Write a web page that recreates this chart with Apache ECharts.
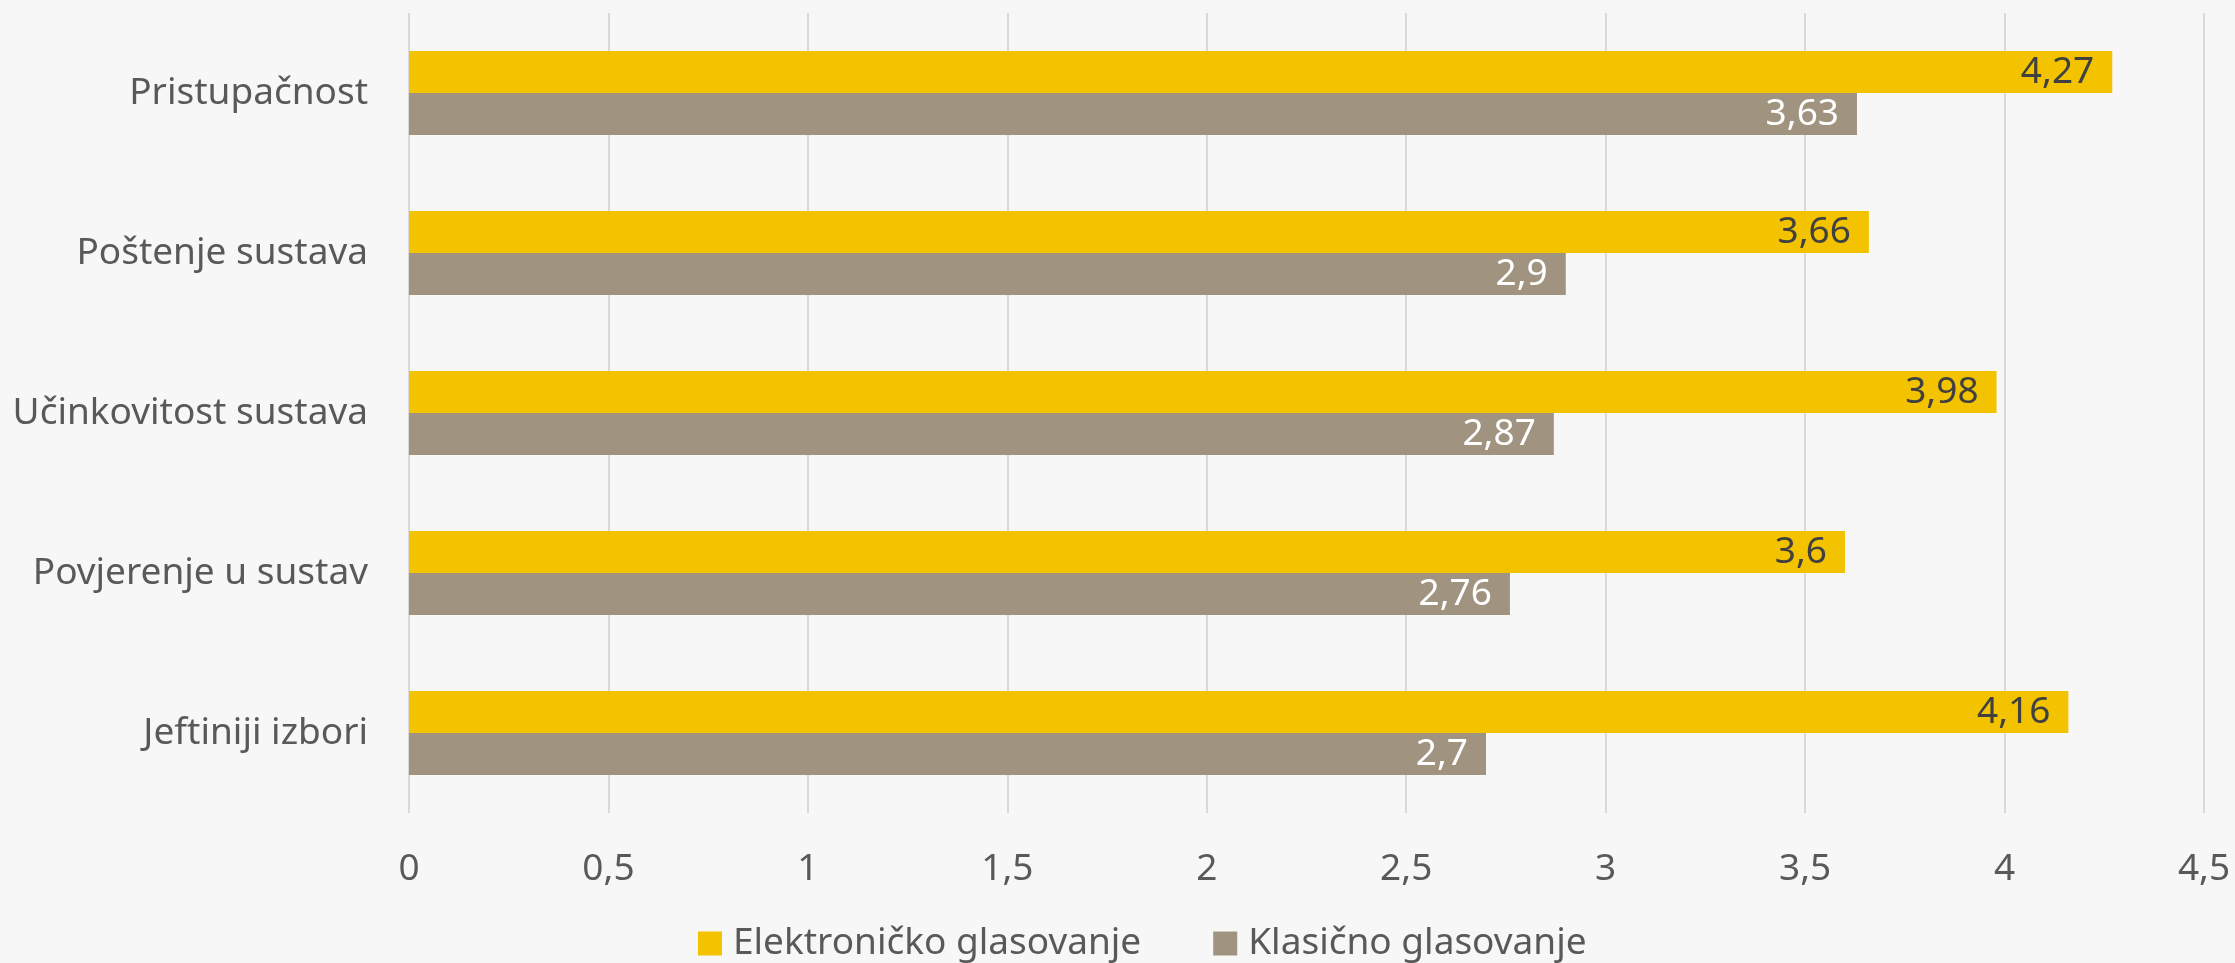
<!DOCTYPE html>
<html lang="hr">
  <head>
    <meta charset="utf-8">
    <title>Glasovanje</title>
    <script src="https://cdn.jsdelivr.net/npm/echarts@6/dist/echarts.min.js"></script>
    <style>
      html, body { margin: 0; padding: 0; background: #f7f7f7; }
      #chart { width: 2235px; height: 963px; }
    </style>
  </head>
  <body>
    <div id="chart"></div>
    <script type="text/javascript">
        // podaci
        var categories = ['Pristupačnost', 'Poštenje sustava', 'Učinkovitost sustava', 'Povjerenje u sustav', 'Jeftiniji izbori'];
        var elektronicko = [4.27, 3.66, 3.98, 3.6, 4.16];
        var klasicno = [3.63, 2.9, 2.87, 2.76, 2.7];
        var seriesNames = ['Elektroničko glasovanje', 'Klasično glasovanje'];

        var fontName = 'Noto Sans';
        var fmt = function (v) { return String(v).replace('.', ','); };

        var myChart = echarts.init(document.getElementById('chart'));
        myChart.setOption({
            backgroundColor: '#f7f7f7',
            animation: false,
            textStyle: { fontFamily: fontName },
            legend: {
                data: seriesNames,
                bottom: -4,
                left: 693,
                icon: 'rect',
                itemWidth: 24,
                itemHeight: 24,
                itemGap: 72,
                textStyle: { fontFamily: fontName, fontSize: 37, color: '#595959', padding: [0, 0, 0, 6] }
            },
            grid: { left: 409, right: 31, top: 13, bottom: 150, containLabel: false },
            xAxis: {
                type: 'value',
                min: 0,
                max: 4.5,
                interval: 0.5,
                axisLine: { show: false },
                axisTick: { show: false },
                splitLine: { lineStyle: { color: '#d9d9d9', width: 2 } },
                axisLabel: {
                    fontFamily: fontName, fontSize: 37, color: '#595959', margin: 38,
                    formatter: fmt
                }
            },
            yAxis: {
                type: 'category',
                inverse: true,
                data: categories,
                axisLine: { show: false },
                axisTick: { show: false },
                axisLabel: { fontFamily: fontName, fontSize: 37, color: '#595959', margin: 41 }
            },
            series: [{
                name: seriesNames[0],
                type: 'bar',
                data: elektronicko,
                barWidth: 42,
                barGap: '0%',
                itemStyle: { color: '#f3c300' },
                label: {
                    show: true, position: 'insideRight', distance: 18,
                    fontFamily: fontName, fontSize: 37, color: '#404040',
                    formatter: function (p) { return fmt(p.value); }
                }
            }, {
                name: seriesNames[1],
                type: 'bar',
                data: klasicno,
                barWidth: 42,
                itemStyle: { color: '#a09480' },
                label: {
                    show: true, position: 'insideRight', distance: 18,
                    fontFamily: fontName, fontSize: 37, color: '#ffffff',
                    formatter: function (p) { return fmt(p.value); }
                }
            }]
        });
    </script>
  </body>
</html>
